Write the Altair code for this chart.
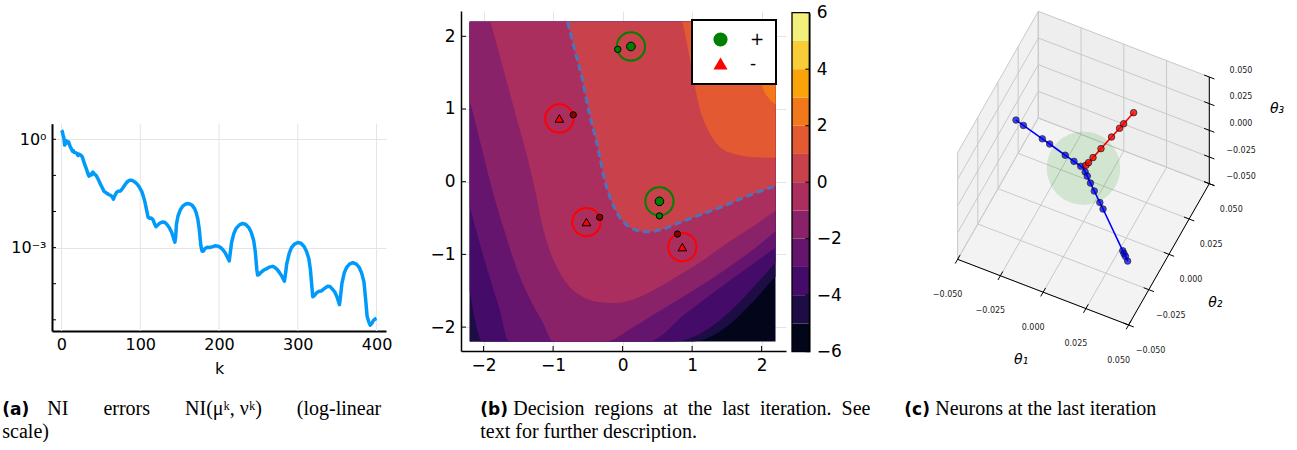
import altair as alt
import numpy as np
import pandas as pd

# ======================= (a) NI errors (log-linear) =======================
K_ITER = [0, 1, 2, 3, 4, 5, 6, 7, 8, 9, 10, 11, 12, 13, 14, 15, 16, 18, 20, 21, 22, 24, 26, 27, 28, 30,
          32, 34, 35, 36, 38, 39, 40, 42, 44, 46, 48, 50, 52, 54, 56, 58, 60, 62, 64, 66, 67, 68, 70, 72,
          75, 77, 80, 83, 86, 88, 90, 93, 96, 99, 102, 104, 106, 108, 110, 112, 114, 116, 118, 120, 122,
          125, 128, 131, 134, 137, 140, 142, 144, 145, 146, 148, 151, 154, 157, 160, 163, 166, 169, 171,
          173, 175, 177, 178.5, 180, 182, 185, 188, 191, 195, 199, 202, 205, 208, 211, 213, 214, 216, 219,
          222, 226, 230, 234, 238, 241, 244, 246, 248, 249, 251, 254, 257, 260, 264, 268, 271, 274, 277,
          280, 283, 284, 286, 289, 292, 296, 300, 304, 308, 311, 314, 316, 318, 319, 321, 324, 327, 330,
          334, 338, 341, 344, 347, 350, 353, 354, 356, 359, 362, 366, 370, 374, 378, 381, 384, 386, 388,
          390, 392, 394, 396, 398, 400]
NI_LOG10 = [0.25, 0.22, 0.12, 0.05, -0.16, -0.12, -0.04, -0.06, -0.10, -0.07, -0.13, -0.20, -0.24, -0.28,
            -0.33, -0.31, -0.36, -0.37, -0.40, -0.45, -0.41, -0.43, -0.47, -0.52, -0.60, -0.72, -0.84,
            -0.98, -1.02, -0.97, -0.99, -0.93, -0.91, -0.97, -1.00, -1.08, -1.17, -1.27, -1.35, -1.44,
            -1.47, -1.50, -1.53, -1.55, -1.58, -1.66, -1.60, -1.55, -1.47, -1.44, -1.43, -1.38, -1.28,
            -1.19, -1.14, -1.13, -1.14, -1.18, -1.24, -1.33, -1.45, -1.58, -1.74, -1.95, -2.16, -2.19,
            -2.18, -2.22, -2.33, -2.42, -2.38, -2.32, -2.29, -2.30, -2.36, -2.45, -2.58, -2.72, -2.85,
            -2.70, -2.35, -2.12, -1.95, -1.85, -1.80, -1.78, -1.79, -1.83, -1.92, -2.03, -2.20, -2.50,
            -2.95, -3.10, -3.10, -3.03, -2.99, -3.00, -2.98, -2.95, -2.96, -3.00, -3.06, -3.15, -3.28,
            -3.37, -3.20, -2.85, -2.60, -2.46, -2.37, -2.33, -2.36, -2.45, -2.58, -2.80, -3.10, -3.60,
            -3.76, -3.74, -3.67, -3.62, -3.59, -3.54, -3.52, -3.55, -3.61, -3.70, -3.80, -3.93, -3.80,
            -3.45, -3.17, -3.00, -2.90, -2.86, -2.88, -2.97, -3.10, -3.30, -3.60, -4.10, -4.36, -4.33,
            -4.25, -4.21, -4.20, -4.13, -4.07, -4.08, -4.15, -4.23, -4.38, -4.58, -4.40, -4.00, -3.70,
            -3.55, -3.45, -3.42, -3.45, -3.55, -3.70, -3.95, -4.40, -4.90, -5.05, -5.15, -5.10, -5.02,
            -4.98, -4.96]
A_XTICKS = [0, 100, 200, 300, 400]
A_YTICKS = [1.0, 1e-3]
A_YMINOR = [1.0, 1e-1, 1e-2, 1e-3, 1e-4, 1e-5]

# ======================= (b) decision regions =======================
FIELD_LIM = 2.2
LEVELS = [-5, -4, -3, -2, -1, 0, 1, 2]
LEVEL_X = {
    -5: [-2.2, 0.99, 2.2],
    -4: [-2.2, -2.01, 0.72, 2.2],
    -3: [-2.2, -1.94, -1.78, -1.63, 0.37, 0.9, 1.5, 2.2],
    -2: [-2.2, -2.05, -1.90, -1.70, -1.51, -1.32, -1.15, -1.0, -0.24, 0.14, 0.53, 1.01, 1.49, 1.87, 2.2],
    -1: [-1.90, -1.58, -1.28, -1.15, -1.02, -0.90, -0.77, -0.60, -0.38, -0.10, 0.15, 0.43, 0.77, 1.10,
         1.45, 1.85, 2.2],
    0: [-0.79, -0.69, -0.58, -0.48, -0.36, -0.26, -0.17, -0.08, 0.03, 0.15, 0.34, 0.55, 0.80, 1.10, 1.39,
        1.87, 2.2],
    1: [0.86, 0.96, 1.03, 1.10, 1.20, 1.34, 1.54, 1.87, 2.2],
    2: [1.86, 1.93, 2.01, 2.10, 2.2],
}
LEVEL_Y = {
    -5: [-2.2, -2.2, -1.30],
    -4: [-1.50, -2.2, -2.2, -1.11],
    -3: [-0.34, -1.23, -1.72, -2.2, -2.2, -1.82, -1.39, -0.91],
    -2: [1.12, 0.55, -0.02, -0.68, -1.23, -1.64, -1.93, -2.2, -2.2, -2.01, -1.78, -1.50, -1.20, -0.94,
         -0.68],
    -1: [2.2, 1.07, -0.02, -0.62, -1.02, -1.26, -1.44, -1.57, -1.65, -1.67, -1.62, -1.50, -1.31, -1.12,
         -0.88, -0.63, -0.40],
    0: [2.2, 1.82, 1.41, 0.95, 0.49, 0.03, -0.24, -0.43, -0.57, -0.65, -0.69, -0.66, -0.57, -0.46, -0.36,
        -0.17, -0.06],
    1: [2.2, 1.73, 1.36, 1.04, 0.77, 0.54, 0.40, 0.34, 0.33],
    2: [2.2, 1.75, 1.32, 1.15, 1.06],
}
BAND_LO = list(range(-6, 6))
BAND_COLORS = ["#03051a", "#1e0c45", "#440b68", "#65156e", "#8a226a", "#aa2f5e",
               "#c8414b", "#e35a32", "#f37819", "#fba40a", "#f8cd37", "#f2ef7a"]
POS_X, POS_Y = [0.12, 0.53], [1.86, -0.27]
NEG_X, NEG_Y = [-0.91, -0.52, 0.86], [0.87, -0.555, -0.90]
POS_SMALL_X, POS_SMALL_Y = [-0.07, 0.53], [1.82, -0.47]
NEG_SMALL_X, NEG_SMALL_Y = [-0.71, -0.33, 0.79], [0.92, -0.49, -0.72]
B_TICKS = [-2, -1, 0, 1, 2]
CB_TICKS = [-6, -4, -2, 0, 2, 4, 6]

# ======================= (c) neurons (3-D) =======================
TICKS3 = [-0.05, -0.025, 0.0, 0.025, 0.05]
TICK3_LABELS = ["\u22120.050", "\u22120.025", "0.000", "0.025", "0.050"]
BLUE_T1 = [-0.0397, -0.0353, -0.0242, -0.0199, -0.0107, -0.0056, -0.0016,
           0.0016, 0.0035, 0.0065, 0.0100, 0.0151, 0.0180, 0.0363, 0.0375, 0.0388, 0.0408]
BLUE_T2 = [0.0005, 0.0004, 0.0003, 0.0003, 0.0001, 0.0001, 0.0000,
           -0.0013, -0.0027, -0.0051, -0.0078, -0.0117, -0.0139, -0.0282, -0.0292, -0.0301, -0.0317]
BLUE_T3 = [0.0200, 0.0178, 0.0122, 0.0100, 0.0054, 0.0028, 0.0008,
           -0.0008, -0.0017, -0.0032, -0.0049, -0.0074, -0.0088, -0.0178, -0.0184, -0.0190, -0.0200]
RED_T1 = [0.0007, 0.0015, 0.0028, 0.0051, 0.0082, 0.0106, 0.0118, 0.0147]
RED_T2 = [0.0016, 0.0031, 0.0059, 0.0109, 0.0174, 0.0223, 0.0248, 0.0310]
RED_T3 = [0.0010, 0.0020, 0.0038, 0.0070, 0.0112, 0.0144, 0.0160, 0.0200]

# ----------------------------------------------------------------------
FONT = "DejaVu Sans"
SERIF = "Liberation Serif"

# ---------- panel (a) ----------
A_W, A_H, A_TOP = 334, 320, 112.7
df_a = pd.DataFrame({"k": K_ITER, "ni": 10.0 ** np.array(NI_LOG10)})
xa = alt.X("k:Q", scale=alt.Scale(domain=[-12, 412], nice=False, zero=False),
           axis=alt.Axis(values=A_XTICKS, grid=False, title="k", labelFontSize=16, titleFontSize=16,
                         titleFontWeight="normal", domainColor="black", domainWidth=2, ticks=False,
                         labelPadding=5, titlePadding=8, labelFlush=False, format="d"))
ya = alt.Y("ni:Q", scale=alt.Scale(type="log", domain=[10 ** -5.31, 10 ** 0.432], range=[A_H, A_TOP],
                                   nice=False),
           axis=alt.Axis(values=A_YTICKS, labelExpr="datum.value > 0.5 ? '10\u2070' : '10\u207b\u00b3'",
                         grid=True, gridColor="#e4e4e4", ticks=False, domainColor="black", domainWidth=2,
                         labelFontSize=16, labelPadding=6, title=None, labelFlush=False))
a_grid = alt.Chart(pd.DataFrame({"k": A_XTICKS})).mark_rule(color="#e4e4e4", strokeWidth=1).encode(
    x=xa, y=alt.value(A_TOP), y2=alt.value(A_H))
a_ticks = alt.Chart(pd.DataFrame({"ni": A_YMINOR})).mark_rule(color="black", strokeWidth=1).encode(
    y=ya, x=alt.value(0), x2=alt.value(4))
a_line = alt.Chart(df_a).mark_line(color="#009afa", strokeWidth=3.5, strokeJoin="round").encode(x=xa, y=ya)


def caption(txt, x, y, bold=False, size=20):
    return alt.Chart(pd.DataFrame({"t": [0]})).mark_text(
        text=txt, align="left", baseline="alphabetic", font=FONT if bold else SERIF,
        fontWeight="bold" if bold else "normal", fontSize=17 if bold else size, color="black"
    ).encode(x=alt.value(x), y=alt.value(y))


AX0, AY0 = 52.7, 10.0   # page position of panel (a) origin
NB = "\u00a0"
G = NB * 7
caps = [
    caption("(a)", 3 - AX0, 414 - AY0, bold=True),
    caption(f"NI{G}errors{G}NI(\u03bc\u1d4f,{NB}\u03bd\u1d4f){G}(log-linear", 48 - AX0, 414 - AY0),
    caption("scale)", 3 - AX0, 437 - AY0),
    caption("(b)", 481 - AX0, 414 - AY0, bold=True),
    caption(f"Decision{NB}{NB}regions{NB}{NB}at{NB}{NB}the{NB}{NB}last{NB}{NB}iteration.{NB}{NB}See",
            514 - AX0, 414 - AY0),
    caption("text for further description.", 481 - AX0, 437 - AY0),
    caption("(c)", 905 - AX0, 414 - AY0, bold=True),
    caption("Neurons at the last iteration", 936 - AX0, 414 - AY0),
]
panel_a = alt.layer(a_grid, a_ticks, a_line, *caps).properties(width=A_W, height=A_H)

# ---------- panel (b) ----------
B_W, B_H = 325, 340
xb = alt.X("x:Q", scale=alt.Scale(domain=[-2.325, 2.351], nice=False, zero=False),
           axis=alt.Axis(values=B_TICKS, grid=True, gridColor="#e4e4e4", ticks=False, labelFontSize=17,
                         domainColor="black", domainWidth=1.5, title=None, labelPadding=6,
                         labelFlush=False, format="d"))
yb = alt.Y("y:Q", scale=alt.Scale(domain=[-2.329, 2.348], nice=False, zero=False),
           axis=alt.Axis(values=B_TICKS, grid=True, gridColor="#e4e4e4", ticks=False, labelFontSize=17,
                         domainColor="black", domainWidth=1.5, title=None, labelPadding=6,
                         labelFlush=False, format="d"))

b_layers = []
base = pd.DataFrame({"x": [-FIELD_LIM], "x2": [FIELD_LIM], "y": [-FIELD_LIM], "y2": [FIELD_LIM]})
b_layers.append(alt.Chart(base).mark_rect(color=BAND_COLORS[0]).encode(x=xb, x2="x2:Q", y=yb, y2="y2:Q"))
for L in LEVELS:
    dfl = pd.DataFrame({"x": LEVEL_X[L], "y": LEVEL_Y[L], "top": FIELD_LIM})
    b_layers.append(alt.Chart(dfl).mark_area(color=BAND_COLORS[L + 6], interpolate="monotone",
                                             opacity=1).encode(x=xb, y=yb, y2="top:Q"))
b_ticks = pd.DataFrame({"x": B_TICKS, "y": B_TICKS})
b_layers.append(alt.Chart(b_ticks).mark_rule(color="black", strokeWidth=1).encode(
    y=yb, x=alt.value(0), x2=alt.value(5)))
b_layers.append(alt.Chart(b_ticks).mark_rule(color="black", strokeWidth=1).encode(
    x=xb, y=alt.value(B_H), y2=alt.value(B_H - 5)))
df0 = pd.DataFrame({"x": LEVEL_X[0], "y": LEVEL_Y[0]})
b_layers.append(alt.Chart(df0).mark_line(color="#4c74bc", strokeWidth=3, strokeDash=[7, 4],
                                         interpolate="monotone").encode(x=xb, y=yb))
df_pos = pd.DataFrame({"x": POS_X, "y": POS_Y})
df_neg = pd.DataFrame({"x": NEG_X, "y": NEG_Y})
b_layers.append(alt.Chart(df_pos).mark_point(shape="circle", filled=False, size=800, color="#008000",
                                             strokeWidth=2, opacity=1).encode(x=xb, y=yb))
b_layers.append(alt.Chart(df_neg).mark_point(shape="circle", filled=False, size=800, color="#ff0000",
                                             strokeWidth=2, opacity=1).encode(x=xb, y=yb))
b_layers.append(alt.Chart(pd.DataFrame({"x": POS_SMALL_X, "y": POS_SMALL_Y})).mark_point(
    shape="circle", filled=True, size=40, fill="#008000", stroke="black", strokeWidth=1, opacity=1
).encode(x=xb, y=yb))
b_layers.append(alt.Chart(pd.DataFrame({"x": NEG_SMALL_X, "y": NEG_SMALL_Y})).mark_point(
    shape="circle", filled=True, size=40, fill="#8b0000", stroke="black", strokeWidth=1, opacity=1
).encode(x=xb, y=yb))
df_cls = pd.DataFrame({"x": POS_X + NEG_X, "y": POS_Y + NEG_Y,
                       "cls": ["+"] * len(POS_X) + ["-"] * len(NEG_X)})
leg = dict(title=None, orient="none", legendX=231, legendY=9, fillColor="white", strokeColor="black",
           padding=11, rowPadding=4, symbolSize=200, symbolStrokeColor="black", symbolStrokeWidth=1.5,
           labelFontSize=17, labelOffset=21, symbolOffset=9, labelColor="black", labelFont=FONT)
b_layers.append(alt.Chart(df_cls).mark_point(filled=True, size=75, stroke="black", strokeWidth=1,
                                             opacity=1).encode(
    x=xb, y=yb,
    fill=alt.Fill("cls:N", scale=alt.Scale(domain=["+", "-"], range=["#008000", "#ff0000"]),
                  legend=alt.Legend(**leg)),
    shape=alt.Shape("cls:N", scale=alt.Scale(domain=["+", "-"], range=["circle", "triangle-up"]),
                    legend=alt.Legend(**leg))))
inner_b = alt.layer(*b_layers)

CB_X0, CB_X1 = 331, 348.3
cb_scale = alt.Scale(domain=[-6, 6], range=[340.7, 1.7], nice=False, zero=False)
df_cb = pd.DataFrame({"lo": BAND_LO, "hi": [v + 1 for v in BAND_LO], "col": BAND_COLORS})
cb_rects = alt.Chart(df_cb).mark_rect().encode(
    x=alt.value(CB_X0), x2=alt.value(CB_X1),
    y=alt.Y("lo:Q", scale=cb_scale,
            axis=alt.Axis(orient="right", values=CB_TICKS, offset=CB_X1 - B_W, ticks=False,
                          labelFontSize=17, labelPadding=7, domainColor="black", domainWidth=1.5,
                          title=None, grid=False, labelFlush=False, format="d")),
    y2="hi:Q",
    fill=alt.Fill("col:N", scale=None))
cb_ticks = alt.Chart(pd.DataFrame({"lo": CB_TICKS})).mark_rule(color="black", strokeWidth=1).encode(
    y=alt.Y("lo:Q", scale=cb_scale, axis=None), x=alt.value(CB_X1 - 4), x2=alt.value(CB_X1))
cb_frame = alt.Chart(pd.DataFrame({"t": [0]})).mark_rect(fillOpacity=0, stroke="black",
                                                         strokeWidth=1.3).encode(
    x=alt.value(CB_X0), x2=alt.value(CB_X1), y=alt.value(1.7), y2=alt.value(340.7))
panel_b = alt.layer(inner_b, cb_rects, cb_ticks, cb_frame).resolve_scale(
    y="independent", fill="independent", shape="independent").properties(width=B_W, height=B_H)

# ---------- panel (c) ----------
C_W, C_H = 430, 360
C_LEFT, C_TOP = 861.7, 10.0
LO3, HI3 = TICKS3[0], TICKS3[-1]


def P(t1, t2, t3):
    zx = 552.5 + 5130 * t1 + 2420 * t2
    zy = 501.5 + 1970 * t1 - 4240 * t2 - 3200 * t3
    return 900 + zx / 3 - C_LEFT, zy / 3 - C_TOP


xc = alt.X("x:Q", scale=alt.Scale(domain=[0, C_W], nice=False, zero=False), axis=None)
yc = alt.Y("y:Q", scale=alt.Scale(domain=[0, C_H], nice=False, zero=False, reverse=True), axis=None)

cA, cB, cC, cD = P(LO3, LO3, LO3), P(HI3, LO3, LO3), P(HI3, HI3, LO3), P(LO3, HI3, LO3)
cA_, cC_, cD_ = P(LO3, LO3, HI3), P(HI3, HI3, HI3), P(LO3, HI3, HI3)
left_wall = pd.DataFrame({"x": [cA[0], cD[0]], "y": [cA[1], cD[1]], "y2": [cA_[1], cD_[1]]})
back_wall = pd.DataFrame({"x": [cD[0], cC[0]], "y": [cD[1], cC[1]], "y2": [cD_[1], cC_[1]]})
fx = sorted([cA[0], cD[0], cB[0], cC[0]])
f_top = np.interp(fx, [cA[0], cD[0], cC[0]], [cA[1], cD[1], cC[1]])
f_bot = np.interp(fx, [cA[0], cB[0], cC[0]], [cA[1], cB[1], cC[1]])
floor = pd.DataFrame({"x": fx, "y": f_bot, "y2": f_top})

c_layers = []
for dfp, col in [(floor, "#f3f3f3"), (left_wall, "#f1f1f1"), (back_wall, "#eeeeee")]:
    c_layers.append(alt.Chart(dfp).mark_area(color=col, opacity=1).encode(x=xc, y=yc, y2="y2:Q"))


def seg_df(segs):
    rows = []
    for p, q in segs:
        a, b = P(*p), P(*q)
        rows.append({"x": a[0], "y": a[1], "x2": b[0], "y2": b[1]})
    return pd.DataFrame(rows)


grid_segs = []
for t in TICKS3:
    grid_segs += [((t, LO3, LO3), (t, HI3, LO3)), ((LO3, t, LO3), (HI3, t, LO3)),
                  ((LO3, t, LO3), (LO3, t, HI3)), ((LO3, LO3, t), (LO3, HI3, t)),
                  ((t, HI3, LO3), (t, HI3, HI3)), ((LO3, HI3, t), (HI3, HI3, t))]
c_layers.append(alt.Chart(seg_df(grid_segs)).mark_rule(color="#c9c9c9", strokeWidth=1).encode(
    x=xc, y=yc, x2="x2:Q", y2="y2:Q"))

sph = P(0, 0, 0)
c_layers.append(alt.Chart(pd.DataFrame({"x": [sph[0]], "y": [sph[1]]})).mark_point(
    shape="circle", filled=True, size=5400, color="#2ca02c", opacity=0.17, strokeWidth=0).encode(x=xc, y=yc))

blue_xy = [P(a, b, c) for a, b, c in zip(BLUE_T1, BLUE_T2, BLUE_T3)]
red_xy = [P(a, b, c) for a, b, c in zip(RED_T1, RED_T2, RED_T3)]
n_a = 7
blue_line = blue_xy[:n_a] + [sph] + blue_xy[n_a:]
df_bl = pd.DataFrame({"x": [p[0] for p in blue_line], "y": [p[1] for p in blue_line],
                      "o": list(range(len(blue_line)))})
df_rl = pd.DataFrame({"x": [sph[0]] + [p[0] for p in red_xy], "y": [sph[1]] + [p[1] for p in red_xy],
                      "o": list(range(len(red_xy) + 1))})
c_layers.append(alt.Chart(df_bl).mark_line(color="#0000ff", strokeWidth=1.6).encode(x=xc, y=yc, order="o:Q"))
c_layers.append(alt.Chart(df_rl).mark_line(color="#ff0000", strokeWidth=1.6).encode(x=xc, y=yc, order="o:Q"))
c_layers.append(alt.Chart(pd.DataFrame({"x": [p[0] for p in blue_xy], "y": [p[1] for p in blue_xy]})).mark_point(
    shape="circle", filled=True, size=42, fill="#0000ff", stroke="black", strokeWidth=0.9, opacity=0.75
).encode(x=xc, y=yc))
c_layers.append(alt.Chart(pd.DataFrame({"x": [p[0] for p in red_xy], "y": [p[1] for p in red_xy]})).mark_point(
    shape="circle", filled=True, size=42, fill="#ff0000", stroke="black", strokeWidth=0.9, opacity=0.8
).encode(x=xc, y=yc))

axis_segs = [((LO3, LO3, LO3), (HI3, LO3, LO3)), ((HI3, LO3, LO3), (HI3, HI3, LO3)),
             ((HI3, HI3, LO3), (HI3, HI3, HI3))]
tk = 0.003
for t in TICKS3:
    axis_segs += [((t, LO3 - tk, LO3), (t, LO3 + tk, LO3)),
                  ((HI3 - tk, t, LO3), (HI3 + tk, t, LO3)),
                  ((HI3 - tk, HI3, t), (HI3 + tk, HI3, t))]
c_layers.append(alt.Chart(seg_df(axis_segs)).mark_rule(color="black", strokeWidth=1).encode(
    x=xc, y=yc, x2="x2:Q", y2="y2:Q"))

lab_rows = []
for t, s in zip(TICKS3, TICK3_LABELS):
    p1 = P(t, LO3, LO3)
    lab_rows.append({"x": p1[0] - 10, "y": p1[1] + 35.5, "label": s})
    p2 = P(HI3, t, LO3)
    lab_rows.append({"x": p2[0] + 22, "y": p2[1] + 26, "label": s})
    p3 = P(HI3, HI3, t)
    lab_rows.append({"x": p3[0] + 31.7, "y": p3[1] - 6.5, "label": s})
c_layers.append(alt.Chart(pd.DataFrame(lab_rows)).mark_text(
    font=FONT, fontSize=8, color="#222222", align="center", baseline="middle").encode(
    x=xc, y=yc, text="label:N"))
t1p, t2p, t3p = P(0, LO3, LO3), P(HI3, 0, LO3), P(HI3, HI3, 0)
df_titles = pd.DataFrame({"x": [t1p[0] - 22, t2p[0] + 46.3, t3p[0] + 67.7],
                          "y": [t1p[1] + 68, t2p[1] + 48.7, t3p[1] - 21.3],
                          "label": ["\u03b8\u2081", "\u03b8\u2082", "\u03b8\u2083"]})
c_layers.append(alt.Chart(df_titles).mark_text(
    font=FONT, fontSize=14, fontStyle="italic", color="black", align="center", baseline="middle").encode(
    x=xc, y=yc, text="label:N"))
panel_c = alt.layer(*c_layers).properties(width=C_W, height=C_H)

chart = alt.hconcat(panel_a, panel_b, panel_c, spacing=75, bounds="flush").properties(
    padding={"left": 2, "top": 3, "right": 0, "bottom": 0}
).configure_view(stroke=None).configure_axis(
    labelFont=FONT, titleFont=FONT, labelColor="black", titleColor="black"
).configure_legend(labelFont=FONT, strokeWidth=2)

chart.save("out.html", embed_options={"renderer": "svg", "actions": False})
